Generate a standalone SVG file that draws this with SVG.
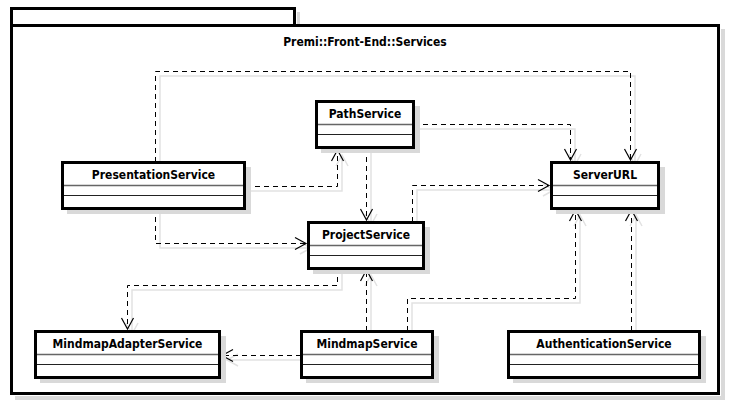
<svg xmlns="http://www.w3.org/2000/svg" width="733" height="408" viewBox="0 0 733 408">
<style>
.sh{fill:#d9d9d9;stroke:none}
.box{fill:#fff;stroke:#000;stroke-width:3}
.d1{stroke:#666;stroke-width:1.5}
.d2{stroke:#222;stroke-width:1}
.lbl{font-family:"DejaVu Sans Condensed","Liberation Sans",sans-serif;font-size:12px;font-weight:bold;fill:#000;text-anchor:middle}
.c{fill:none;stroke:#000;stroke-width:1;stroke-dasharray:5,4;marker-end:url(#a)}
.cs{fill:none;stroke:#e2e2e2;stroke-width:1.5;marker-end:url(#as)}
</style>
<defs>
<marker id="a" markerUnits="userSpaceOnUse" markerWidth="14" markerHeight="14" refX="11" refY="6" orient="auto" overflow="visible"><path d="M0,0 L11,6 L0,12" fill="none" stroke="#000" stroke-width="1.2"/></marker>
<marker id="as" markerUnits="userSpaceOnUse" markerWidth="14" markerHeight="14" refX="11" refY="6" orient="auto" overflow="visible"><path d="M0,0 L11,6 L0,12" fill="none" stroke="#e2e2e2" stroke-width="1.5"/></marker>
</defs>
<g id="frame">
<rect x="297" y="12" width="3" height="14" class="sh"/>
<rect x="721" y="29" width="4" height="371" class="sh"/>
<rect x="15" y="396" width="710" height="4" class="sh"/>
<path d="M11.5,25.5 V8.5 H294.5 V25.5" fill="#fff" stroke="#000" stroke-width="3"/>
<rect x="11.5" y="25.5" width="707" height="368" fill="#fff" stroke="#000" stroke-width="3"/>
<text x="365" y="46" style="font-family:'DejaVu Sans Condensed','Liberation Sans',sans-serif;font-size:12px;font-weight:bold;text-anchor:middle">Premi::Front-End::Services</text>
</g>
<g id="connectors">
<g transform="translate(5,5)">
<path class="cs" d="M155,162 V71 H630 V160"/>
<path class="cs" d="M414,124 H570 V160"/>
<path class="cs" d="M366,148 V220"/>
<path class="cs" d="M246,186 H337 V150"/>
<path class="cs" d="M155,208 V243 H306"/>
<path class="cs" d="M412,222 V185 H549"/>
<path class="cs" d="M337,268 V285 H127 V329"/>
<path class="cs" d="M366,331 V270"/>
<path class="cs" d="M301,355 H222"/>
<path class="cs" d="M407,331 V298 H575 V210"/>
<path class="cs" d="M631,331 V210"/>
</g>
<path class="c" d="M155.5,162 V71.5 H630.5 V160"/>
<path class="c" d="M414,124.5 H570.5 V160"/>
<path class="c" d="M366.5,148 V220"/>
<path class="c" d="M246,186.5 H337.5 V150"/>
<path class="c" d="M155.5,208 V243.5 H306"/>
<path class="c" d="M412.5,222 V185.5 H549"/>
<path class="c" d="M337.5,268 V285.5 H127.5 V329"/>
<path class="c" d="M366.5,331 V270"/>
<path class="c" d="M301,355.5 H222"/>
<path class="c" d="M407.5,331 V298.5 H575.5 V210"/>
<path class="c" d="M631.5,331 V210"/>
</g>
<g id="PathService">
<rect x="321" y="106" width="99" height="47" class="sh"/>
<rect x="316.5" y="101.5" width="97" height="46" class="box"/>
<text x="365" y="118" class="lbl">PathService</text>
<line x1="318" y1="124.5" x2="412" y2="124.5" class="d1"/>
<line x1="318" y1="134.5" x2="412" y2="134.5" class="d2"/>
</g>
<g id="PresentationService">
<rect x="67" y="167" width="184" height="47" class="sh"/>
<rect x="62.5" y="162.5" width="182" height="46" class="box"/>
<text x="153.5" y="179" class="lbl">PresentationService</text>
<line x1="64" y1="185.5" x2="243" y2="185.5" class="d1"/>
<line x1="64" y1="195.5" x2="243" y2="195.5" class="d2"/>
</g>
<g id="ServerURL">
<rect x="556" y="167" width="109" height="47" class="sh"/>
<rect x="551.5" y="162.5" width="107" height="46" class="box"/>
<text x="605" y="179" class="lbl">ServerURL</text>
<line x1="553" y1="185.5" x2="657" y2="185.5" class="d1"/>
<line x1="553" y1="195.5" x2="657" y2="195.5" class="d2"/>
</g>
<g id="ProjectService">
<rect x="313" y="227" width="117" height="47" class="sh"/>
<rect x="308.5" y="222.5" width="115" height="46" class="box"/>
<text x="366" y="239" class="lbl">ProjectService</text>
<line x1="310" y1="245.5" x2="422" y2="245.5" class="d1"/>
<line x1="310" y1="255.5" x2="422" y2="255.5" class="d2"/>
</g>
<g id="MindmapAdapterService">
<rect x="40" y="336" width="186" height="47" class="sh"/>
<rect x="35.5" y="331.5" width="184" height="46" class="box"/>
<text x="127.5" y="348" class="lbl">MindmapAdapterService</text>
<line x1="37" y1="354.5" x2="218" y2="354.5" class="d1"/>
<line x1="37" y1="364.5" x2="218" y2="364.5" class="d2"/>
</g>
<g id="MindmapService">
<rect x="306" y="336" width="133" height="47" class="sh"/>
<rect x="301.5" y="331.5" width="131" height="46" class="box"/>
<text x="367" y="348" class="lbl">MindmapService</text>
<line x1="303" y1="354.5" x2="431" y2="354.5" class="d1"/>
<line x1="303" y1="364.5" x2="431" y2="364.5" class="d2"/>
</g>
<g id="AuthenticationService">
<rect x="513" y="336" width="193" height="47" class="sh"/>
<rect x="508.5" y="331.5" width="191" height="46" class="box"/>
<text x="604" y="348" class="lbl">AuthenticationService</text>
<line x1="510" y1="354.5" x2="698" y2="354.5" class="d1"/>
<line x1="510" y1="364.5" x2="698" y2="364.5" class="d2"/>
</g>
</svg>
